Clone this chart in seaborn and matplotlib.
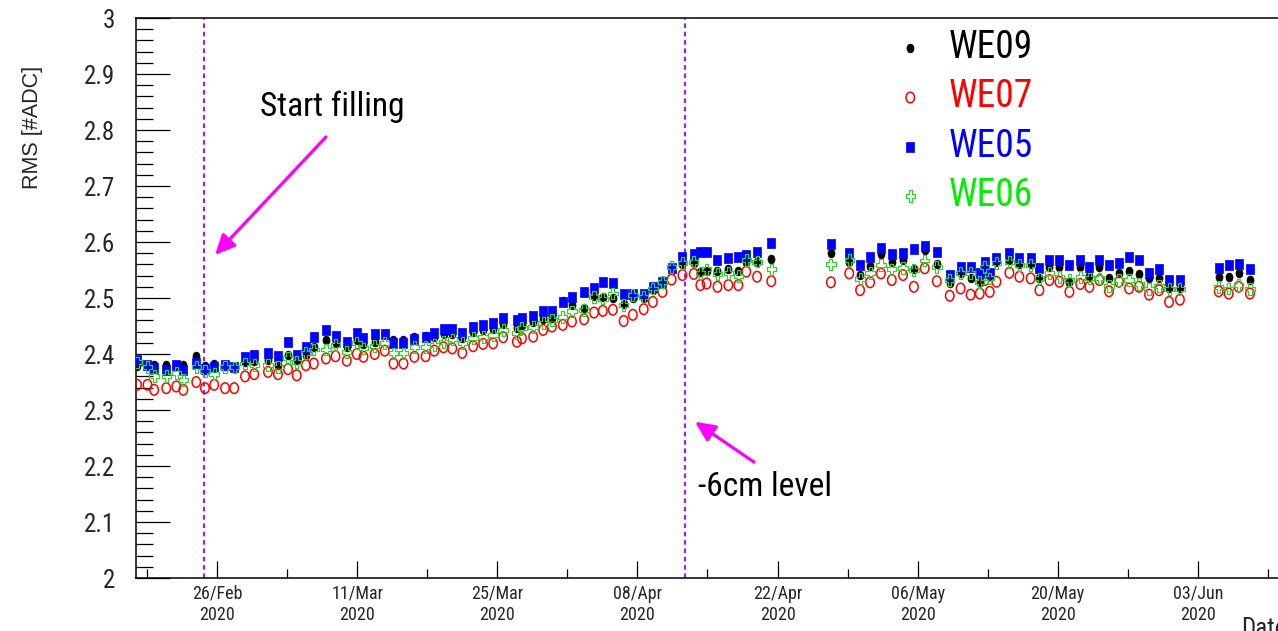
import matplotlib
matplotlib.use("Agg")
import matplotlib.pyplot as plt
import matplotlib.dates as mdates
from matplotlib import font_manager
from matplotlib.markers import MarkerStyle
from matplotlib.transforms import Affine2D
from matplotlib.ticker import MultipleLocator, FuncFormatter, FixedLocator
import pandas as pd
import seaborn as sns

# ---------------------------------------------------------------- data
dates = [
    "2020-02-18 00:00", "2020-02-19 01:00", "2020-02-19 17:00", "2020-02-20 22:00", "2020-02-21 22:00",
    "2020-02-22 15:00", "2020-02-23 22:00", "2020-02-24 19:00", "2020-02-25 17:00", "2020-02-26 19:00",
    "2020-02-27 17:00", "2020-02-28 19:00", "2020-02-29 17:00", "2020-03-02 02:00", "2020-03-03 02:00",
    "2020-03-04 02:00", "2020-03-04 23:00", "2020-03-05 21:00", "2020-03-06 16:00", "2020-03-07 21:00",
    "2020-03-08 20:00", "2020-03-09 23:00", "2020-03-10 23:00", "2020-03-11 15:00", "2020-03-12 18:00",
    "2020-03-13 18:00", "2020-03-14 15:00", "2020-03-15 15:00", "2020-03-16 17:00", "2020-03-17 20:00",
    "2020-03-18 17:00", "2020-03-19 15:00", "2020-03-20 12:00", "2020-03-21 12:00", "2020-03-22 14:00",
    "2020-03-23 14:00", "2020-03-24 14:00", "2020-03-25 14:00", "2020-03-26 23:00", "2020-03-27 11:00",
    "2020-03-28 14:00", "2020-03-29 14:00", "2020-03-30 11:00", "2020-03-31 13:00", "2020-04-01 11:00",
    "2020-04-02 16:00", "2020-04-03 16:00", "2020-04-04 13:00", "2020-04-05 13:00", "2020-04-06 15:00",
    "2020-04-07 13:00", "2020-04-08 15:00", "2020-04-09 13:00", "2020-04-10 12:00", "2020-04-11 10:00",
    "2020-04-12 12:00", "2020-04-13 15:00", "2020-04-14 07:00", "2020-04-14 22:00", "2020-04-16 00:00",
    "2020-04-17 02:00", "2020-04-18 02:00", "2020-04-18 21:00", "2020-04-19 23:00", "2020-04-21 09:00",
    "2020-04-27 08:00", "2020-04-29 04:00", "2020-04-30 06:00", "2020-05-01 06:00", "2020-05-02 08:00",
    "2020-05-03 10:00", "2020-05-04 13:00", "2020-05-05 15:00", "2020-05-06 17:00", "2020-05-07 22:00",
    "2020-05-09 05:00", "2020-05-10 07:00", "2020-05-11 07:00", "2020-05-12 05:00", "2020-05-12 17:00",
    "2020-05-13 05:00", "2020-05-13 21:00", "2020-05-15 04:00", "2020-05-16 04:00", "2020-05-17 07:00",
    "2020-05-18 04:00", "2020-05-19 04:00", "2020-05-20 04:00", "2020-05-21 04:00", "2020-05-22 06:00",
    "2020-05-23 04:00", "2020-05-24 04:00", "2020-05-25 03:00", "2020-05-26 03:00", "2020-05-27 03:00",
    "2020-05-28 03:00", "2020-05-29 03:00", "2020-05-30 03:00", "2020-05-31 03:00", "2020-06-01 05:00",
    "2020-06-05 02:00", "2020-06-06 02:00", "2020-06-07 02:00", "2020-06-08 05:00",
]

we09 = [
    2.379, 2.378, 2.380, 2.380, 2.378, 2.380, 2.396, 2.379, 2.383, 2.378,
    2.376, 2.385, 2.388, 2.390, 2.380, 2.399, 2.390, 2.398, 2.413, 2.425,
    2.420, 2.412, 2.425, 2.418, 2.422, 2.435, 2.425, 2.425, 2.430, 2.432,
    2.430, 2.435, 2.436, 2.428, 2.440, 2.442, 2.445, 2.453, 2.446, 2.452,
    2.457, 2.462, 2.465, 2.494, 2.488, 2.482, 2.503, 2.502, 2.500, 2.490,
    2.500, 2.500, 2.515, 2.525, 2.550, 2.560, 2.562, 2.547, 2.549, 2.548,
    2.551, 2.548, 2.565, 2.565, 2.569, 2.581, 2.565, 2.541, 2.558, 2.578,
    2.564, 2.568, 2.551, 2.586, 2.561, 2.526, 2.545, 2.535, 2.529, 2.556,
    2.540, 2.565, 2.567, 2.560, 2.560, 2.535, 2.555, 2.555, 2.529, 2.555,
    2.540, 2.555, 2.535, 2.545, 2.548, 2.542, 2.535, 2.535, 2.517, 2.517,
    2.537, 2.537, 2.545, 2.533,
]

we07 = [
    2.345, 2.345, 2.336, 2.339, 2.342, 2.336, 2.350, 2.339, 2.345, 2.339,
    2.339, 2.360, 2.364, 2.368, 2.364, 2.373, 2.362, 2.380, 2.383, 2.392,
    2.396, 2.388, 2.400, 2.395, 2.400, 2.406, 2.383, 2.383, 2.395, 2.396,
    2.406, 2.412, 2.410, 2.402, 2.414, 2.418, 2.419, 2.430, 2.422, 2.428,
    2.431, 2.443, 2.449, 2.452, 2.458, 2.462, 2.474, 2.477, 2.479, 2.459,
    2.470, 2.480, 2.493, 2.511, 2.533, 2.541, 2.543, 2.523, 2.526, 2.520,
    2.523, 2.523, 2.547, 2.538, 2.530, 2.528, 2.544, 2.514, 2.528, 2.544,
    2.532, 2.541, 2.520, 2.553, 2.530, 2.504, 2.517, 2.506, 2.508, 2.532,
    2.511, 2.529, 2.545, 2.538, 2.535, 2.514, 2.532, 2.529, 2.511, 2.525,
    2.520, 2.532, 2.512, 2.529, 2.517, 2.520, 2.506, 2.514, 2.493, 2.497,
    2.512, 2.508, 2.520, 2.508,
]

we05 = [
    2.389, 2.380, 2.375, 2.371, 2.380, 2.371, 2.384, 2.374, 2.377, 2.380,
    2.377, 2.394, 2.398, 2.402, 2.396, 2.422, 2.399, 2.412, 2.430, 2.443,
    2.432, 2.422, 2.437, 2.429, 2.435, 2.435, 2.419, 2.419, 2.426, 2.430,
    2.438, 2.444, 2.444, 2.438, 2.449, 2.452, 2.456, 2.464, 2.460, 2.464,
    2.468, 2.476, 2.476, 2.493, 2.502, 2.511, 2.517, 2.529, 2.527, 2.508,
    2.507, 2.507, 2.519, 2.528, 2.553, 2.573, 2.578, 2.583, 2.583, 2.568,
    2.571, 2.573, 2.577, 2.582, 2.599, 2.596, 2.580, 2.559, 2.574, 2.589,
    2.579, 2.581, 2.588, 2.593, 2.582, 2.541, 2.556, 2.556, 2.544, 2.565,
    2.544, 2.571, 2.581, 2.571, 2.571, 2.553, 2.567, 2.567, 2.559, 2.568,
    2.555, 2.567, 2.559, 2.562, 2.573, 2.567, 2.544, 2.551, 2.533, 2.533,
    2.553, 2.559, 2.561, 2.551,
]

we06 = [
    2.385, 2.377, 2.361, 2.361, 2.366, 2.354, 2.377, 2.369, 2.365, 2.377,
    2.376, 2.383, 2.381, 2.381, 2.377, 2.393, 2.386, 2.402, 2.408, 2.408,
    2.416, 2.404, 2.419, 2.410, 2.414, 2.419, 2.401, 2.401, 2.413, 2.412,
    2.416, 2.422, 2.426, 2.419, 2.428, 2.431, 2.434, 2.443, 2.437, 2.446,
    2.448, 2.455, 2.461, 2.466, 2.476, 2.479, 2.502, 2.499, 2.508, 2.488,
    2.505, 2.502, 2.517, 2.529, 2.555, 2.562, 2.565, 2.545, 2.551, 2.543,
    2.545, 2.539, 2.568, 2.565, 2.551, 2.560, 2.568, 2.534, 2.544, 2.559,
    2.551, 2.553, 2.550, 2.567, 2.556, 2.532, 2.544, 2.545, 2.529, 2.556,
    2.535, 2.563, 2.564, 2.559, 2.559, 2.535, 2.544, 2.538, 2.532, 2.538,
    2.535, 2.535, 2.521, 2.532, 2.532, 2.525, 2.516, 2.522, 2.516, 2.516,
    2.520, 2.517, 2.523, 2.516,
]

sensor_names = ["WE09", "WE07", "WE05", "WE06"]
sensor_values = [we09, we07, we05, we06]

major_tick_dates = ["2020-02-26", "2020-03-11", "2020-03-25", "2020-04-08",
                    "2020-04-22", "2020-05-06", "2020-05-20", "2020-06-03"]
minor_tick_dates = ["2020-02-19", "2020-03-04", "2020-03-18", "2020-04-01", "2020-04-15",
                    "2020-04-29", "2020-05-13", "2020-05-27", "2020-06-10"]

x_range = ["2020-02-17 21:30", "2020-06-12 05:00"]

start_filling = "2020-02-24 17:00"
level_6cm = "2020-04-12 18:00"

# ---------------------------------------------------------------- style
sns.set_theme(style="white")

# prefer a condensed sans face; fall back to a regular one drawn a bit smaller
names = {f.name for f in font_manager.fontManager.ttflist}
narrow = None
for cand in ["Liberation Sans Narrow", "Roboto Condensed", "DejaVu Sans Condensed",
             "Open Sans Condensed", "Noto Sans Condensed"]:
    if cand in names:
        narrow = cand
        break
if narrow is None:
    narrow, shrink = "Liberation Sans", 0.88
else:
    shrink = 1.0
plt.rcParams["font.family"] = [narrow, "DejaVu Sans"]
plt.rcParams["axes.linewidth"] = 1.1

df = pd.concat(
    [pd.DataFrame({"date": pd.to_datetime(dates), "rms": vals, "sensor": name})
     for name, vals in zip(sensor_names, sensor_values)],
    ignore_index=True,
)

squish = Affine2D().scale(0.8, 1.0)
styles = {
    "WE09": dict(marker=MarkerStyle("o", transform=squish), s=40,
                 facecolor="black", edgecolor="black", linewidth=0.5),
    "WE07": dict(marker=MarkerStyle("o", transform=squish), s=58,
                 facecolor="none", edgecolor="#ff0000", linewidth=1.1),
    "WE05": dict(marker=MarkerStyle("s", transform=squish), s=58,
                 facecolor="#0000ff", edgecolor="#0000ff", linewidth=0.5),
    "WE06": dict(marker=MarkerStyle("P", transform=squish), s=72,
                 facecolor="none", edgecolor="#33d133", linewidth=0.9),
}
text_colors = ["black", "#ff0000", "#0000ff", "#00ee00"]

fig = plt.figure(figsize=(12.78, 6.31), dpi=100)
ax = fig.add_axes([136 / 1278, 53 / 631, 1154 / 1278, 560 / 631])

for name in sensor_names:
    sns.scatterplot(data=df[df["sensor"] == name], x="date", y="rms",
                    label=name, ax=ax, zorder=3, **styles[name])

# ---------------------------------------------------------------- axes
ax.set_xlim(pd.Timestamp(x_range[0]), pd.Timestamp(x_range[1]))
ax.set_ylim(2.0, 3.0)

ax.xaxis.set_major_locator(FixedLocator(mdates.date2num(pd.to_datetime(major_tick_dates))))
ax.xaxis.set_minor_locator(FixedLocator(mdates.date2num(pd.to_datetime(minor_tick_dates))))
ax.xaxis.set_major_formatter(mdates.DateFormatter("%d/%b\n%Y"))
ax.yaxis.set_major_locator(MultipleLocator(0.1))
ax.yaxis.set_minor_locator(MultipleLocator(0.02))
ax.yaxis.set_major_formatter(FuncFormatter(lambda v, p: f"{v:g}"))

ax.tick_params(axis="y", which="major", direction="in", length=24.5, width=0.9,
               labelsize=18 * shrink, pad=15, color="black", left=True)
ax.tick_params(axis="y", which="minor", direction="in", length=12.2, width=0.9,
               color="black", left=True)
ax.tick_params(axis="x", which="major", direction="in", length=12.2, width=0.9,
               labelsize=13 * shrink, pad=5, color="black", bottom=True)
ax.tick_params(axis="x", which="minor", direction="in", length=6.5, width=0.9,
               color="black", bottom=True)
for lab in ax.get_xticklabels():
    lab.set_linespacing(1.25)

for side in ["left", "bottom", "top"]:
    ax.spines[side].set_color("black")
ax.spines["right"].set_visible(False)

ax.set_ylabel("RMS [#ADC]", fontsize=15.5, family=["Liberation Sans", "DejaVu Sans"],
              va="center", ha="center")
ax.yaxis.set_label_coords(-0.0901, 0.805)
ax.set_xlabel("Date", fontsize=18 * shrink, ha="left", va="top")
ax.xaxis.set_label_coords(0.958, -0.070)

# ---------------------------------------------------------------- markers of events
for when in [start_filling, level_6cm]:
    ax.axvline(pd.Timestamp(when), color="#9a1cff", lw=1.5, ls=(0, (2.2, 1.8)), zorder=2)

arrow_kw = dict(arrowstyle="-|>,head_length=0.6,head_width=0.28", color="#ff00ff",
                lw=2.3, shrinkA=0, shrinkB=0, mutation_scale=20)
ax.annotate("", xy=(pd.Timestamp("2020-02-25 19:00"), 2.577),
            xytext=(pd.Timestamp("2020-03-07 21:00"), 2.7875), arrowprops=arrow_kw)
ax.text(pd.Timestamp("2020-03-08 12:00"), 2.841, "Start filling",
        fontsize=24 * shrink, ha="center", va="center", color="black")
ax.annotate("", xy=(pd.Timestamp("2020-04-13 18:00"), 2.279),
            xytext=(pd.Timestamp("2020-04-19 15:30"), 2.207), arrowprops=arrow_kw)
ax.text(pd.Timestamp("2020-04-20 17:00"), 2.1625, "-6cm level",
        fontsize=24 * shrink, ha="center", va="center", color="black")

# ---------------------------------------------------------------- legend
leg = ax.legend(loc="upper left", bbox_to_anchor=(899 / 1278, 1 - 29 / 631),
                bbox_transform=fig.transFigure, frameon=False, fontsize=27 * shrink,
                handlelength=0.6, handletextpad=0.72, labelspacing=0.33,
                borderpad=0, borderaxespad=0, labelcolor=text_colors,
                markerscale=1.0)

fig.savefig("out.png", dpi=100)
